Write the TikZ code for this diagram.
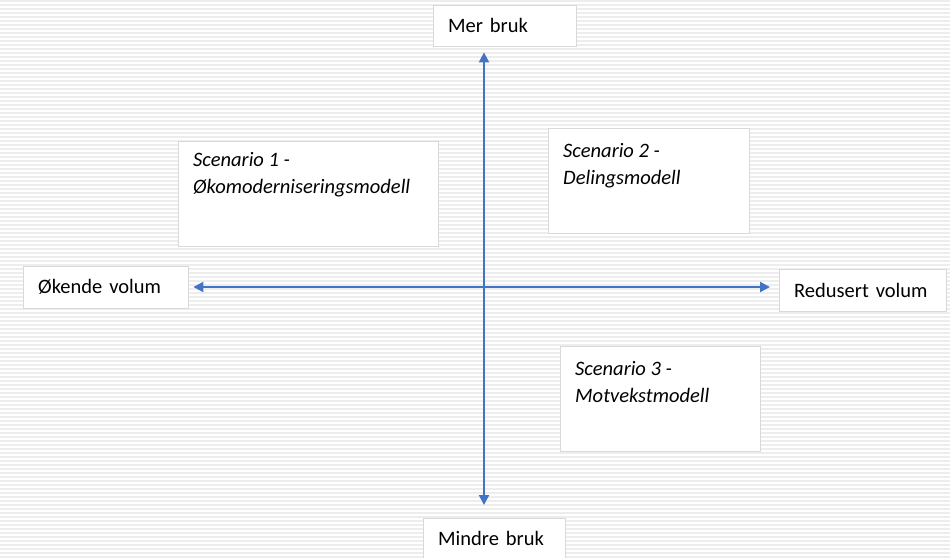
\documentclass[tikz,border=0pt]{standalone}
\usepackage{fontspec}
\setmainfont{Carlito}
\usepackage{xcolor}
\usetikzlibrary{calc,positioning,arrows.meta,backgrounds}
\definecolor{axisblue}{HTML}{4472C4}
\definecolor{stripe}{HTML}{EDEDED}
\definecolor{boxline}{HTML}{D9D9D9}

\begin{document}
\begin{tikzpicture}[x=1pt,y=-1pt,
    axis/.style={{Triangle[length=10pt,width=10pt]}-{Triangle[length=10pt,width=10pt]},draw=axisblue,line width=2pt},
    end node/.style={draw=boxline,fill=white,anchor=north west,inner xsep=15pt,inner ysep=0pt,
                     font=\fontsize{20.5}{27}\selectfont,align=left,minimum height=41pt},
    scen node/.style={draw=boxline,fill=white,anchor=north west,inner xsep=15pt,inner ysep=0pt,
                      font=\fontsize{20.5}{27}\selectfont\itshape}]
\useasboundingbox (0,0) rectangle (950,557);
\fill[white] (0,0) rectangle (950,557);
\foreach \y in {0,4,...,556}
   \fill[stripe] (0,\y) rectangle (950,\y+2);

\node[end node,text width=113pt] (mer) at (433,5) {Mer bruk};
\node[end node,text width=112pt] (mindre) at (423,518) {Mindre bruk};
\node[end node,text width=135pt,minimum height=42pt] (okende) at (23,266) {Økende volum};
\node[end node,text width=137pt,minimum height=42pt] (redusert) at (779,269) {Redusert volum};

\node[scen node,text height=25pt,text depth=80pt] (scen1) at (178,141)
   {\parbox[t]{230pt}{Scenario 1 -\\Økomoderniseringsmodell}};
\node[scen node,text height=29pt,text depth=76pt] (scen2) at (548,128)
   {\parbox[t]{171pt}{Scenario 2 -\\Delingsmodell}};
\node[scen node,text height=29pt,text depth=76pt] (scen3) at (560,346)
   {\parbox[t]{170pt}{Scenario 3 -\\Motvekstmodell}};

\coordinate (centre) at (484,287);
\draw[axis] ([yshift=-6pt]mer.south -| centre) -- ([yshift=13pt]mindre.north -| centre);
\draw[axis] ([xshift=5pt]okende.east |- centre) -- ([xshift=-9pt]redusert.west |- centre);
\end{tikzpicture}
\end{document}
